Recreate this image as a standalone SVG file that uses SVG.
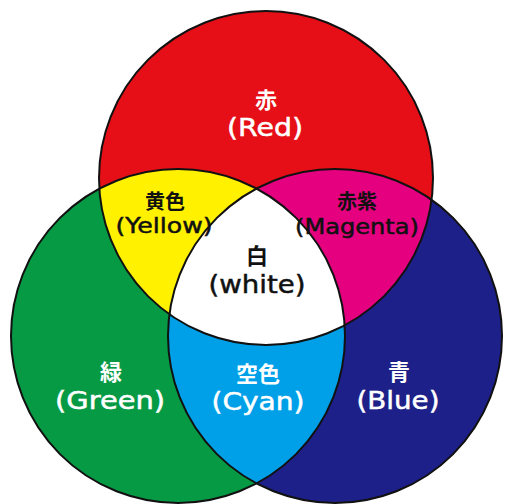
<svg xmlns="http://www.w3.org/2000/svg" width="505" height="504" viewBox="0 0 505 504">
<style>
.jp{font-family:"Noto Sans CJK JP","Noto Sans CJK SC",sans-serif;font-weight:700;text-anchor:middle}
.en{font-family:"DejaVu Sans","Liberation Sans",sans-serif;font-weight:400;text-anchor:middle;stroke-width:0.5}
.w{fill:#ffffff}
.en.w{stroke:#ffffff}
.k{fill:#111111}
.en.k{stroke:#111111}
.outline{fill:none;stroke:#111111;stroke-width:2}
</style>
<defs>
<clipPath id="clipR"><circle cx="266" cy="178" r="167"/></clipPath>
<clipPath id="clipG"><circle cx="178" cy="336" r="167"/></clipPath>
</defs>
<rect width="505" height="504" fill="#ffffff"/>
<g id="red"><circle cx="266" cy="178" r="167" fill="#e60f17"/></g>
<g id="green"><circle cx="178" cy="336" r="167" fill="#079a45"/></g>
<g id="blue"><circle cx="335" cy="336" r="167" fill="#1d2088"/></g>
<g id="yellow" clip-path="url(#clipR)"><circle cx="178" cy="336" r="167" fill="#fff100"/></g>
<g id="magenta" clip-path="url(#clipR)"><circle cx="335" cy="336" r="167" fill="#e4007f"/></g>
<g id="cyan" clip-path="url(#clipG)"><circle cx="335" cy="336" r="167" fill="#00a0e9"/></g>
<g id="white" clip-path="url(#clipR)"><g clip-path="url(#clipG)"><circle cx="335" cy="336" r="167" fill="#ffffff"/></g></g>
<g id="outlines">
<circle class="outline" cx="266" cy="178" r="167"/>
<circle class="outline" cx="178" cy="336" r="167"/>
<circle class="outline" cx="335" cy="336" r="167"/>
</g>
<g id="labels">
<g id="label-red">
<text class="jp w" x="266" y="108" font-size="22">赤</text>
<text class="en w" x="265" y="136" font-size="25" textLength="76" lengthAdjust="spacingAndGlyphs">(Red)</text>
</g>
<g id="label-yellow">
<text class="jp k" x="165" y="209" font-size="20">黄色</text>
<text class="en k" x="164" y="233" font-size="21" textLength="97" lengthAdjust="spacingAndGlyphs">(Yellow)</text>
</g>
<g id="label-magenta">
<text class="jp k" x="357" y="209" font-size="20">赤紫</text>
<text class="en k" x="357" y="234" font-size="21" textLength="124" lengthAdjust="spacingAndGlyphs">(Magenta)</text>
</g>
<g id="label-white">
<text class="jp k" x="257" y="264" font-size="22">白</text>
<text class="en k" x="257" y="293" font-size="25" textLength="97" lengthAdjust="spacingAndGlyphs">(white)</text>
</g>
<g id="label-green">
<text class="jp w" x="111" y="380" font-size="22">緑</text>
<text class="en w" x="110" y="409" font-size="25" textLength="110" lengthAdjust="spacingAndGlyphs">(Green)</text>
</g>
<g id="label-cyan">
<text class="jp w" x="258" y="382" font-size="22">空色</text>
<text class="en w" x="258" y="410" font-size="25" textLength="93" lengthAdjust="spacingAndGlyphs">(Cyan)</text>
</g>
<g id="label-blue">
<text class="jp w" x="399" y="380" font-size="22">青</text>
<text class="en w" x="398" y="409" font-size="25" textLength="83" lengthAdjust="spacingAndGlyphs">(Blue)</text>
</g>
</g>
</svg>
